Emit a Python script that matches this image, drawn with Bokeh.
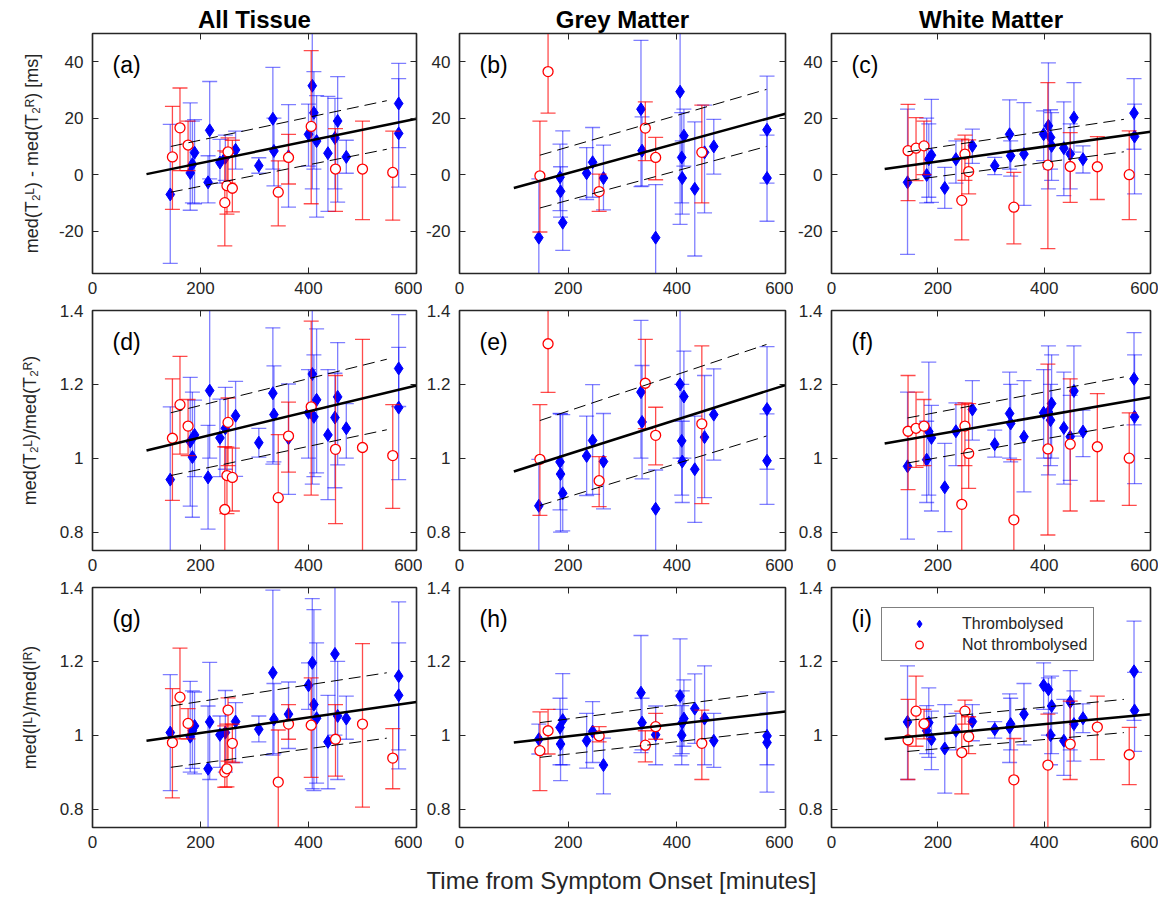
from bokeh.plotting import figure
from bokeh.layouts import gridplot, column
from bokeh.models import (ColumnDataSource, FixedTicker, CustomJSTickFormatter, LinearAxis,
                          Label, Legend, LegendItem, Range1d)
from bokeh.embed import file_html
from bokeh.resources import INLINE

# ---------------- data ----------------
col_titles = ["All Tissue", "Grey Matter", "White Matter"]
row_ylabels = ["med(T\u2082\u1d38) - med(T\u2082\u1d3f) [ms]",
               "med(T\u2082\u1d38)/med(T\u2082\u1d3f)",
               "med(I\u1d38)/med(I\u1d3f)"]
x_label = "Time from Symptom Onset [minutes]"
x_ticks = [0, 200, 400, 600]
y_ticks_diff = [-20, 0, 20, 40]
y_ticks_ratio = [0.8, 1, 1.2, 1.4]
legend_labels = ["Thrombolysed", "Not thrombolysed"]

# Column 1 (All Tissue)
c1_t_x = [144, 181, 185, 189, 214, 217, 236, 246, 265, 308, 334, 336, 363, 400, 407, 410, 415, 436, 449, 454, 470, 567, 567]
a_t_y = [-7.0, 0.6, 3.7, 7.8, -2.7, 15.7, 4.3, 6.0, 8.8, 3.2, 19.8, 8.4, 6.5, 14.3, 31.5, 21.9, 11.9, 7.6, 13.0, 19.0, 6.3, 25.2, 14.6]
a_t_lo = [-31.4, -12.6, -10.0, -10.3, -10.0, -1.5, -3.0, -2.0, 2.0, 0.5, 2.0, -4.0, -11.5, 3.0, -5.0, 2.0, -15.0, -13.0, -5.0, -9.7, 0.5, 9.6, -4.4]
a_t_hi = [17.8, 25.4, 19.0, 19.5, 6.7, 33.0, 12.5, 14.0, 15.4, 6.0, 38.0, 20.0, 24.8, 25.0, 55.0, 36.5, 28.0, 27.7, 27.0, 34.7, 12.2, 39.4, 34.0]
d_t_y = [0.942, 1.045, 1.003, 1.063, 0.948, 1.183, 1.055, 1.081, 1.115, 1.042, 1.176, 1.118, 1.054, 1.123, 1.228, 1.112, 1.158, 1.063, 1.110, 1.166, 1.081, 1.243, 1.137]
d_t_lo = [0.70, 0.87, 0.84, 0.95, 0.808, 1.0, 0.95, 0.97, 0.951, 1.003, 0.984, 0.99, 0.902, 1.0, 0.93, 0.95, 0.96, 0.888, 0.92, 0.982, 1.0, 1.14, 0.942]
d_t_hi = [1.139, 1.219, 1.179, 1.157, 1.089, 1.45, 1.16, 1.192, 1.208, 1.081, 1.353, 1.25, 1.201, 1.24, 1.45, 1.28, 1.35, 1.24, 1.23, 1.313, 1.148, 1.389, 1.30]
g_t_y = [1.007, 0.996, 1.012, 1.025, 0.909, 1.036, 1.001, 1.007, 1.037, 1.016, 1.169, 1.043, 1.057, 1.135, 1.196, 1.083, 1.046, 0.982, 1.22, 1.052, 1.045, 1.16, 1.108]
g_t_lo = [0.85, 0.90, 0.91, 0.895, 0.74, 0.88, 0.913, 0.90, 0.926, 0.982, 0.946, 0.95, 0.964, 1.07, 0.855, 0.85, 0.87, 0.855, 1.0, 0.88, 0.989, 0.96, 0.909]
g_t_hi = [1.164, 1.146, 1.12, 1.117, 1.079, 1.197, 1.052, 1.121, 1.088, 1.052, 1.393, 1.14, 1.144, 1.196, 1.37, 1.34, 1.25, 1.108, 1.41, 1.2, 1.106, 1.361, 1.25]

c1_n_x = [148, 162, 177, 245, 249, 251, 259, 344, 363, 405, 450, 500, 556]
a_n_y = [6.3, 16.6, 10.5, -9.9, -3.9, 8.1, -4.8, -6.2, 6.1, 17.1, 2.0, 2.0, 0.8]
a_n_lo = [-12.3, 1.4, 1.4, -25.2, -14.0, -3.0, -13.2, -18.1, -3.3, -10.3, -13.0, -15.9, -16.1]
a_n_hi = [24.2, 30.7, 19.0, 8.4, 8.0, 13.0, 12.2, 4.9, 14.3, 43.9, 16.3, 19.0, 15.4]
d_n_y = [1.054, 1.145, 1.087, 0.861, 0.953, 1.097, 0.948, 0.893, 1.060, 1.139, 1.024, 1.029, 1.007]
d_n_lo = [0.886, 1.011, 1.007, 0.70, 0.85, 0.98, 0.857, 0.70, 0.962, 0.90, 0.823, 0.70, 0.864]
d_n_hi = [1.215, 1.276, 1.159, 1.031, 1.03, 1.163, 1.027, 1.064, 1.152, 1.371, 1.224, 1.322, 1.145]
g_n_y = [0.98, 1.103, 1.032, 0.90, 0.909, 1.068, 0.978, 0.873, 1.03, 1.027, 0.989, 1.03, 0.938]
g_n_lo = [0.83, 0.99, 0.99, 0.859, 0.86, 0.93, 0.926, 0.70, 0.989, 0.886, 0.889, 0.805, 0.855]
g_n_hi = [1.126, 1.236, 1.072, 1.025, 1.03, 1.101, 1.03, 1.014, 1.083, 1.155, 1.083, 1.248, 1.018]

# Column 2 (Grey Matter)
c2_t_x = [146, 185, 186, 190, 234, 245, 265, 334, 336, 361, 406, 409, 410, 413, 433, 451, 468, 566, 566]
b_t_y = [-22.3, -0.9, -5.9, -17.0, 0.5, 4.4, -1.2, 23.2, 8.5, -22.3, 29.4, 6.1, -1.2, 13.8, -5.0, 7.9, 10.0, 15.9, -1.2]
b_t_lo = [-45, -12.7, -15, -26.8, -8.8, -8.0, -12.5, -4.2, -4.0, -45, -17.6, -10, -14, 3.0, -28.8, -13.5, 0.2, -3.0, -16.5]
b_t_hi = [-1.5, 10.8, 2.8, 15.5, 9.6, 16.7, 10.5, 47.6, 20.5, -3.5, 55, 22, 12, 23.2, 18.7, 24.6, 19.6, 34.9, 14.0]
e_t_y = [0.871, 0.99, 0.957, 0.905, 1.006, 1.048, 0.991, 1.179, 1.098, 0.863, 1.2, 1.047, 0.991, 1.167, 0.97, 1.057, 1.118, 1.133, 0.993]
e_t_lo = [0.70, 0.86, 0.80, 0.803, 0.899, 0.902, 0.863, 1.0, 0.944, 0.70, 1.0, 0.90, 0.88, 1.0, 0.826, 0.893, 0.995, 0.97, 0.875]
e_t_hi = [0.997, 1.121, 1.12, 1.118, 1.114, 1.199, 1.121, 1.373, 1.251, 0.968, 1.45, 1.2, 1.10, 1.29, 1.114, 1.224, 1.242, 1.302, 1.12]
h_t_y = [0.989, 1.021, 0.976, 1.041, 0.985, 1.01, 0.919, 1.115, 1.034, 1.001, 1.106, 1.0, 1.034, 1.045, 1.072, 1.045, 0.985, 0.998, 0.98]
h_t_lo = [0.949, 0.92, 0.877, 0.92, 0.911, 0.926, 0.841, 0.953, 0.96, 0.92, 0.944, 0.92, 0.95, 0.97, 0.978, 0.92, 0.913, 0.92, 0.846]
h_t_hi = [1.03, 1.1, 1.07, 1.167, 1.059, 1.091, 0.992, 1.27, 1.1, 1.079, 1.261, 1.08, 1.12, 1.15, 1.166, 1.188, 1.059, 1.117, 1.06]

c2_n_x = [148, 163, 257, 342, 361, 446]
b_n_y = [-0.4, 36.5, -6.0, 16.5, 6.1, 7.9]
b_n_lo = [-20.3, 21.8, -13.0, 5.0, -1.8, -10.0]
b_n_hi = [19.0, 60, 0.2, 25.8, 13.2, 24.6]
e_n_y = [0.997, 1.31, 0.939, 1.203, 1.062, 1.093]
e_n_lo = [0.845, 1.178, 0.869, 1.08, 0.982, 0.877]
e_n_hi = [1.145, 1.5, 1.004, 1.322, 1.138, 1.304]
h_n_y = [0.958, 1.012, 0.998, 0.973, 1.023, 0.978]
h_n_lo = [0.85, 0.949, 0.982, 0.928, 0.989, 0.88]
h_n_hi = [1.063, 1.07, 1.023, 1.012, 1.059, 1.068]

# Column 3 (White Matter)
c3_t_x = [143, 179, 183, 188, 213, 234, 265, 307, 335, 337, 362, 399, 408, 412, 414, 437, 449, 456, 473, 569, 570]
c_t_y = [-2.7, -0.1, 5.5, 6.9, -4.7, 5.5, 10.2, 3.2, 14.3, 6.7, 7.3, 14.3, 17.3, 13.2, 10.2, 9.4, 7.3, 20.2, 5.5, 21.8, 13.5]
c_t_lo = [-28.2, -10, -8, -9.8, -11.9, -3, 4, 0, 2, -0.5, -10.9, 5, -5, 2, -2, -7.4, -5, 8, 0.6, 9, -6.8]
c_t_hi = [23.2, 20, 18, 26.7, 2.6, 12, 16.1, 6.1, 26.5, 12, 25.5, 22.6, 39.6, 23, 22, 25.8, 18, 32.6, 10.2, 34, 25]
f_t_y = [0.978, 0.996, 1.072, 1.055, 0.921, 1.073, 1.132, 1.038, 1.121, 1.094, 1.058, 1.123, 1.125, 1.103, 1.148, 1.082, 1.058, 1.182, 1.072, 1.215, 1.112]
f_t_lo = [0.781, 0.88, 0.90, 0.857, 0.801, 0.98, 1.049, 1.003, 1.0, 0.99, 0.909, 1.0, 0.955, 0.98, 1.0, 0.93, 0.94, 1.06, 1.004, 1.09, 0.931]
f_t_hi = [1.179, 1.1, 1.26, 1.143, 1.04, 1.15, 1.21, 1.076, 1.233, 1.2, 1.21, 1.24, 1.304, 1.2, 1.28, 1.233, 1.17, 1.304, 1.13, 1.34, 1.28]
i_t_y = [1.036, 1.012, 1.034, 0.989, 0.964, 1.012, 1.037, 1.016, 1.021, 1.03, 1.057, 1.135, 1.124, 1.0, 1.079, 0.985, 1.09, 1.03, 1.046, 1.173, 1.067]
i_t_lo = [0.88, 0.95, 0.94, 0.907, 0.843, 0.96, 0.985, 0.992, 0.926, 0.96, 0.974, 1.07, 1.0, 0.92, 0.95, 0.891, 0.96, 0.93, 1.007, 1.04, 0.956]
i_t_hi = [1.188, 1.08, 1.128, 1.065, 1.083, 1.059, 1.083, 1.037, 1.112, 1.1, 1.14, 1.196, 1.155, 1.06, 1.16, 1.097, 1.175, 1.12, 1.085, 1.309, 1.17]

c3_n_x = [144, 159, 174, 245, 251, 258, 343, 407, 449, 500, 560]
c_n_y = [8.5, 9.4, 10.2, -9.1, 7.3, 1.1, -11.5, 3.4, 2.9, 2.8, 0.0]
c_n_lo = [-9.2, -2.1, 0.0, -23.1, -2.0, -6.8, -24.5, -26.2, -9.8, -8.8, -15.9]
c_n_hi = [24.9, 20.2, 19.0, 12.6, 14.0, 12.3, 0.8, 32.6, 14.9, 13.5, 15.5]
f_n_y = [1.073, 1.081, 1.087, 0.875, 1.087, 1.013, 0.833, 1.025, 1.038, 1.031, 1.0]
f_n_lo = [0.915, 0.975, 0.98, 0.70, 0.98, 0.918, 0.70, 0.792, 0.857, 0.884, 0.872]
f_n_hi = [1.224, 1.179, 1.159, 1.145, 1.15, 1.148, 0.996, 1.255, 1.215, 1.175, 1.123]
i_n_y = [0.987, 1.065, 1.031, 0.953, 1.065, 0.996, 0.879, 0.919, 0.976, 1.022, 0.947]
i_n_lo = [0.88, 0.97, 0.99, 0.841, 1.03, 0.95, 0.70, 0.70, 0.88, 0.934, 0.866]
i_n_hi = [1.097, 1.16, 1.07, 1.065, 1.095, 1.05, 0.991, 1.057, 1.092, 1.106, 1.021]

# regression fits (solid) and bounds (dashed)
fit_x = [100, 600]
a_fit = [0.2, 19.8]
b_fit = [-4.7, 21.6]
c_fit = [2.0, 15.2]
d_fit = [1.021, 1.197]
e_fit = [0.964, 1.198]
f_fit = [1.040, 1.165]
g_fit = [0.985, 1.09]
h_fit = [0.98, 1.064]
i_fit = [0.99, 1.057]
c1_band_x = [145, 545]
c2_band_x = [148, 565]
c3_band_x = [143, 550]
a_up, a_lw = [10.0, 26.2], [-6.2, 9.0]
b_up, b_lw = [6.9, 30.2], [-11.8, 10.0]
c_up, c_lw = [8.1, 19.6], [-2.1, 8.1]
d_up, d_lw = [1.123, 1.268], [0.953, 1.077]
e_up, e_lw = [1.102, 1.308], [0.872, 1.06]
f_up, f_lw = [1.109, 1.22], [0.987, 1.09]
g_up, g_lw = [1.079, 1.169], [0.913, 0.992]
h_up, h_lw = [1.034, 1.114], [0.94, 1.01]
i_up, i_lw = [1.04, 1.097], [0.956, 1.007]

# ---------------- style ----------------
FONT = "Liberation Sans"
TXT = "#262626"
BLUE = "#0000ff"
RED = "#ff0000"
COLS = [(92, 324, 6), (37, 326, 8), (38, 319, 8)]     # left border, frame width, right border
ROWS = [(33, 240, 28), (9, 240, 28), (9, 240, 28)]    # top border, frame height, bottom border
fmt = CustomJSTickFormatter(code="return tick.toString();")


def style_axis(ax, ticks, show_labels=True):
    ax.ticker = FixedTicker(ticks=ticks)
    ax.formatter = fmt
    ax.major_tick_in = 6
    ax.major_tick_out = 0
    ax.minor_tick_line_color = None
    ax.major_tick_line_color = TXT
    ax.axis_line_color = TXT
    ax.axis_line_width = 1.2
    ax.major_label_text_font = FONT
    if show_labels:
        ax.major_label_text_font_size = "17px"
        ax.major_label_text_color = TXT
    else:
        ax.major_label_text_font_size = "1px"
        ax.major_label_text_color = None
        ax.major_label_standoff = 0


def panel(letter, ci, ri, tx, ty, tlo, thi, nx, ny, nlo, nhi, fit, bx, up, lw):
    lb, fw, rb = COLS[ci]
    tb, fh, bb = ROWS[ri]
    if ri == 0:
        yr, yt = (-35, 50), y_ticks_diff
    else:
        yr, yt = (0.75, 1.4), y_ticks_ratio
    p = figure(frame_width=fw, frame_height=fh,
               x_range=Range1d(0, 600), y_range=Range1d(*yr),
               output_backend="svg", toolbar_location=None,
               min_border_left=lb, min_border_right=rb,
               min_border_top=tb, min_border_bottom=bb,
               outline_line_color=TXT, outline_line_width=1.5)
    p.grid.visible = False
    xa = p.below[0]
    ya = p.left[0]
    style_axis(xa, x_ticks)
    xa.major_label_standoff = 8
    style_axis(ya, yt)
    ya.major_label_standoff = 9
    top = LinearAxis()
    style_axis(top, x_ticks, show_labels=False)
    p.add_layout(top, "above")
    right = LinearAxis()
    style_axis(right, yt, show_labels=False)
    p.add_layout(right, "right")

    if ri == 0:
        p.title.text = col_titles[ci]
        p.title.align = "center"
        p.title.text_font = FONT
        p.title.text_font_size = "24px"
        p.title.text_font_style = "bold"
        p.title.text_color = "black"
        p.title.standoff = 2
    if ci == 0:
        ya.axis_label = row_ylabels[ri]
        ya.axis_label_text_font = FONT
        ya.axis_label_text_font_size = "18px"
        ya.axis_label_text_font_style = "normal"
        ya.axis_label_text_color = TXT
        ya.axis_label_standoff = 14 if ri == 0 else 17

    st = ColumnDataSource(dict(x=tx, y=ty, lo=tlo, hi=thi))
    sn = ColumnDataSource(dict(x=nx, y=ny, lo=nlo, hi=nhi))

    # thrombolysed
    p.segment(x0="x", y0="lo", x1="x", y1="hi", source=st, line_color=BLUE, line_alpha=0.5, line_width=1.3)
    p.scatter("x", "lo", source=st, marker="dash", size=15, line_color=BLUE, line_alpha=0.5, line_width=1.3)
    p.scatter("x", "hi", source=st, marker="dash", size=15, line_color=BLUE, line_alpha=0.5, line_width=1.3)
    rt = p.scatter("x", "y", source=st, marker="diamond", size=13, fill_color=BLUE, line_color=BLUE)
    # not thrombolysed
    p.segment(x0="x", y0="lo", x1="x", y1="hi", source=sn, line_color=RED, line_alpha=0.7, line_width=1.3)
    p.scatter("x", "lo", source=sn, marker="dash", size=15, line_color=RED, line_alpha=0.7, line_width=1.3)
    p.scatter("x", "hi", source=sn, marker="dash", size=15, line_color=RED, line_alpha=0.7, line_width=1.3)
    rn = p.scatter("x", "y", source=sn, marker="circle", size=10, fill_color="white", line_color=RED,
                   line_width=1.3)

    # fits
    p.line(fit_x, fit, line_color="black", line_width=2.5)
    p.line(bx, up, line_color="black", line_width=1, line_dash="12 6")
    p.line(bx, lw, line_color="black", line_width=1, line_dash="12 6")

    p.add_layout(Label(x=20, y=fh - 18, x_units="screen", y_units="screen", text=f"({letter})",
                       text_font=FONT, text_font_size="23px", text_color="black", text_baseline="top"))

    if letter == "i":
        leg = Legend(items=[LegendItem(label=legend_labels[0], renderers=[rt]),
                            LegendItem(label=legend_labels[1], renderers=[rn])],
                     location=(50, 166), orientation="vertical",
                     label_text_font=FONT, label_text_font_size="16px", label_text_color=TXT,
                     glyph_width=62, glyph_height=19, label_standoff=12, spacing=2, padding=6,
                     margin=0, border_line_color="black", border_line_width=1,
                     background_fill_alpha=1.0)
        p.add_layout(leg)
    return p


pa = panel("a", 0, 0, c1_t_x, a_t_y, a_t_lo, a_t_hi, c1_n_x, a_n_y, a_n_lo, a_n_hi, a_fit, c1_band_x, a_up, a_lw)
pb = panel("b", 1, 0, c2_t_x, b_t_y, b_t_lo, b_t_hi, c2_n_x, b_n_y, b_n_lo, b_n_hi, b_fit, c2_band_x, b_up, b_lw)
pc = panel("c", 2, 0, c3_t_x, c_t_y, c_t_lo, c_t_hi, c3_n_x, c_n_y, c_n_lo, c_n_hi, c_fit, c3_band_x, c_up, c_lw)
pd = panel("d", 0, 1, c1_t_x, d_t_y, d_t_lo, d_t_hi, c1_n_x, d_n_y, d_n_lo, d_n_hi, d_fit, c1_band_x, d_up, d_lw)
pe = panel("e", 1, 1, c2_t_x, e_t_y, e_t_lo, e_t_hi, c2_n_x, e_n_y, e_n_lo, e_n_hi, e_fit, c2_band_x, e_up, e_lw)
pf = panel("f", 2, 1, c3_t_x, f_t_y, f_t_lo, f_t_hi, c3_n_x, f_n_y, f_n_lo, f_n_hi, f_fit, c3_band_x, f_up, f_lw)
pg = panel("g", 0, 2, c1_t_x, g_t_y, g_t_lo, g_t_hi, c1_n_x, g_n_y, g_n_lo, g_n_hi, g_fit, c1_band_x, g_up, g_lw)
ph = panel("h", 1, 2, c2_t_x, h_t_y, h_t_lo, h_t_hi, c2_n_x, h_n_y, h_n_lo, h_n_hi, h_fit, c2_band_x, h_up, h_lw)
pi = panel("i", 2, 2, c3_t_x, i_t_y, i_t_lo, i_t_hi, c3_n_x, i_n_y, i_n_lo, i_n_hi, i_fit, c3_band_x, i_up, i_lw)

grid = gridplot([[pa, pb, pc], [pd, pe, pf], [pg, ph, pi]], toolbar_location=None)

# shared x-axis title under the whole grid
lab = figure(width=1158, height=40, x_range=Range1d(0, 1), y_range=Range1d(0, 1),
             x_axis_type=None, y_axis_type=None, min_border=0, outline_line_color=None,
             output_backend="svg", toolbar_location=None)
lab.grid.visible = False
lab.add_layout(Label(x=621, y=15, x_units="screen", y_units="screen", text=x_label,
                     text_font=FONT, text_font_size="24px", text_color=TXT,
                     text_align="center", text_baseline="middle"))

layout = column(grid, lab, spacing=0)

with open("out.html", "w") as fh_:
    fh_.write(file_html(layout, INLINE))
